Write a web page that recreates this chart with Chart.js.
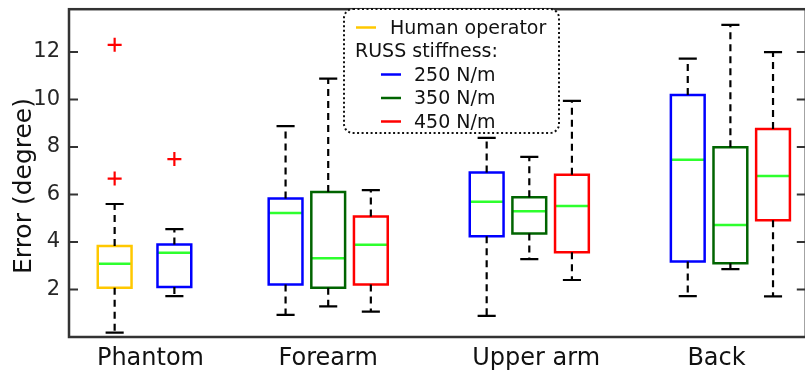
<!DOCTYPE html>
<html>
<head>
<meta charset="utf-8">
<script src="https://cdn.jsdelivr.net/npm/chart.js@4.4.1/dist/chart.umd.min.js"></script>
<style>
  html, body { margin:0; padding:0; background:#fff; overflow:hidden; width:805px; height:376px; }
  #wrap { position:relative; width:815px; height:376px; }
</style>
</head>
<body>
<div id="wrap"><canvas id="chart" width="815" height="376"></canvas></div>
<script>
/* ---------- données ---------- */
const groups       = ["Phantom", "Forearm", "Upper arm", "Back"];
const groupTickAt  = [1.116, 2.0, 3.034, 3.931];
const seriesNames  = ["Human operator", "250 N/m", "350 N/m", "450 N/m"];
const yTicks       = [2, 4, 6, 8, 10, 12];

// une entrée par boîte : Phantom (2), Forearm (3), Upper arm (3), Back (3)
const boxSeries = [0, 1,   1, 2, 3,   1, 2, 3,   1, 2, 3];
const boxAt     = [0.938, 1.235,   1.788, 2.0, 2.212,   2.788, 3.0, 3.212,   3.788, 4.0, 4.212];
const whiskLow  = [0.18, 1.72,   0.93, 1.29, 1.07,   0.89, 3.28, 2.40,   1.72, 2.86, 1.71];
const q1        = [2.07, 2.10,   2.21, 2.07, 2.21,   4.24, 4.36, 3.57,   3.18, 3.11, 4.92];
const median    = [3.08, 3.55,   5.22, 3.32, 3.88,   5.69, 5.29, 5.51,   7.46, 4.72, 6.78];
const q3        = [3.83, 3.89,   5.83, 6.10, 5.07,   6.92, 5.88, 6.83,  10.19, 7.99, 8.76];
const whiskHigh = [5.60, 4.54,   8.88, 10.88, 6.18,  8.38, 7.58, 9.94,  11.72, 13.14, 11.99];

const outlierAt  = [0.938, 0.938, 1.235];
const outlierVal = [12.3, 6.67, 7.49];

/* ---------- styles ---------- */
const COLORS   = ["#ffc800", "#0000ff", "#006400", "#ff0000"];
const MEDIAN_C = "#2eff2e";
const HALF_BOX = 0.084;
const HALF_CAP = 0.045;
const FONT     = "DejaVu Sans";

/* ---------- datasets (boîtes à moustaches en segments) ---------- */
function seg(x0, y0, x1, y1, color, width, dash){
  return {
    data: [{x:x0, y:y0}, {x:x1, y:y1}],
    showLine: true, borderColor: color, borderWidth: width,
    borderDash: dash || [], pointRadius: 0, tension: 0, fill: false
  };
}

const datasets = [];
boxAt.forEach((x, i) => {
  const c = COLORS[boxSeries[i]];
  const l = x - HALF_BOX, r = x + HALF_BOX;
  // moustaches pointillées
  datasets.push(seg(x, q3[i], x, whiskHigh[i], "#000", 2.2, [7, 5]));
  datasets.push(seg(x, q1[i], x, whiskLow[i], "#000", 2.2, [7, 5]));
  // capuchons
  datasets.push(seg(x - HALF_CAP, whiskHigh[i], x + HALF_CAP, whiskHigh[i], "#000", 2.2));
  datasets.push(seg(x - HALF_CAP, whiskLow[i], x + HALF_CAP, whiskLow[i], "#000", 2.2));
  // boîte
  datasets.push({
    data: [{x:l, y:q1[i]}, {x:l, y:q3[i]}, {x:r, y:q3[i]}, {x:r, y:q1[i]}, {x:l, y:q1[i]}],
    showLine: true, borderColor: c, borderWidth: 2.5, pointRadius: 0, tension: 0, fill: false,
    borderJoinStyle: "miter", borderCapStyle: "square"
  });
  // médiane
  datasets.push(seg(l, median[i], r, median[i], MEDIAN_C, 2.5));
});
datasets.push({
  data: outlierAt.map((x, k) => ({x, y: outlierVal[k]})),
  showLine: false, pointStyle: "cross", pointRadius: 7,
  borderColor: "#ff0000", borderWidth: 2.2
});

/* ---------- cadre, ticks intérieurs, titre Y, légende ---------- */
const framePlugin = {
  id: "frame",
  afterDatasetsDraw(chart){
    const { ctx, chartArea: a, scales: { y } } = chart;
    ctx.save();
    ctx.strokeStyle = "#333";
    ctx.lineWidth = 2.5;
    ctx.strokeRect(a.left, a.top, a.right - a.left, a.bottom - a.top);
    ctx.lineWidth = 2;
    y.ticks.forEach(t => {
      const py = y.getPixelForValue(t.value);
      ctx.beginPath();
      ctx.moveTo(a.left, py);  ctx.lineTo(a.left + 9, py);
      ctx.moveTo(a.right - 9, py); ctx.lineTo(a.right, py);
      ctx.stroke();
    });

    // titre de l'axe Y
    ctx.save();
    ctx.translate(31, 186);
    ctx.rotate(-Math.PI / 2);
    ctx.fillStyle = "#111";
    ctx.font = `25px "${FONT}"`;
    ctx.textAlign = "center";
    ctx.textBaseline = "alphabetic";
    ctx.fillText("Error (degree)", 0, 0);
    ctx.restore();

    // légende
    const lx = 344, ly = 9, lw = 215, lh = 124;
    ctx.fillStyle = "#fff";
    ctx.beginPath(); ctx.roundRect(lx, ly, lw, lh, 9); ctx.fill();
    ctx.setLineDash([2, 2.5]);
    ctx.strokeStyle = "#111";
    ctx.lineWidth = 2;
    ctx.stroke();
    ctx.setLineDash([]);

    ctx.font = `19px "${FONT}"`;
    ctx.fillStyle = "#111";
    ctx.textAlign = "left";
    ctx.textBaseline = "alphabetic";
    const rows = [
      { mark: COLORS[0], mx: 356, tx: 390, text: seriesNames[0] },
      { mark: null,      mx: 0,   tx: 355, text: "RUSS stiffness:" },
      { mark: COLORS[1], mx: 381, tx: 414, text: seriesNames[1] },
      { mark: COLORS[2], mx: 381, tx: 414, text: seriesNames[2] },
      { mark: COLORS[3], mx: 381, tx: 414, text: seriesNames[3] }
    ];
    rows.forEach((r, k) => {
      const base = 33.5 + k * 23.5;
      if (r.mark){
        ctx.strokeStyle = r.mark;
        ctx.lineWidth = 2.5;
        ctx.beginPath(); ctx.moveTo(r.mx, base - 6); ctx.lineTo(r.mx + 20, base - 6); ctx.stroke();
      }
      ctx.fillText(r.text, r.tx, base);
    });
    ctx.restore();
  }
};

/* ---------- rendu ---------- */
new Chart(document.getElementById("chart").getContext("2d"), {
  type: "scatter",
  data: { datasets },
  options: {
    responsive: false,
    animation: false,
    devicePixelRatio: 1,
    layout: { padding: { top: 6, right: 4, left: 0, bottom: 0 } },
    plugins: { legend: { display: false }, tooltip: { enabled: false } },
    scales: {
      x: {
        type: "linear", min: 0.711, max: 4.375,
        grid: { display: false, drawTicks: false }, border: { display: false },
        afterBuildTicks: (s) => { s.ticks = groupTickAt.map(v => ({ value: v })); },
        ticks: {
          autoSkip: false, maxRotation: 0, padding: 7, color: "#111",
          font: { family: FONT, size: 24 },
          callback: (v, i) => groups[i]
        },
        afterFit: (s) => { s.height = 39; s.paddingLeft = 0; s.paddingRight = 0; }
      },
      y: {
        min: 0, max: 13.8,
        grid: { display: false, drawTicks: false }, border: { display: false },
        afterBuildTicks: (s) => { s.ticks = yTicks.map(v => ({ value: v })); },
        ticks: { padding: 9, color: "#262626", font: { family: FONT, size: 21 } },
        afterFit: (s) => { s.width = 69; s.paddingTop = 0; s.paddingBottom = 0; }
      }
    }
  },
  plugins: [framePlugin]
});
</script>
</body>
</html>
